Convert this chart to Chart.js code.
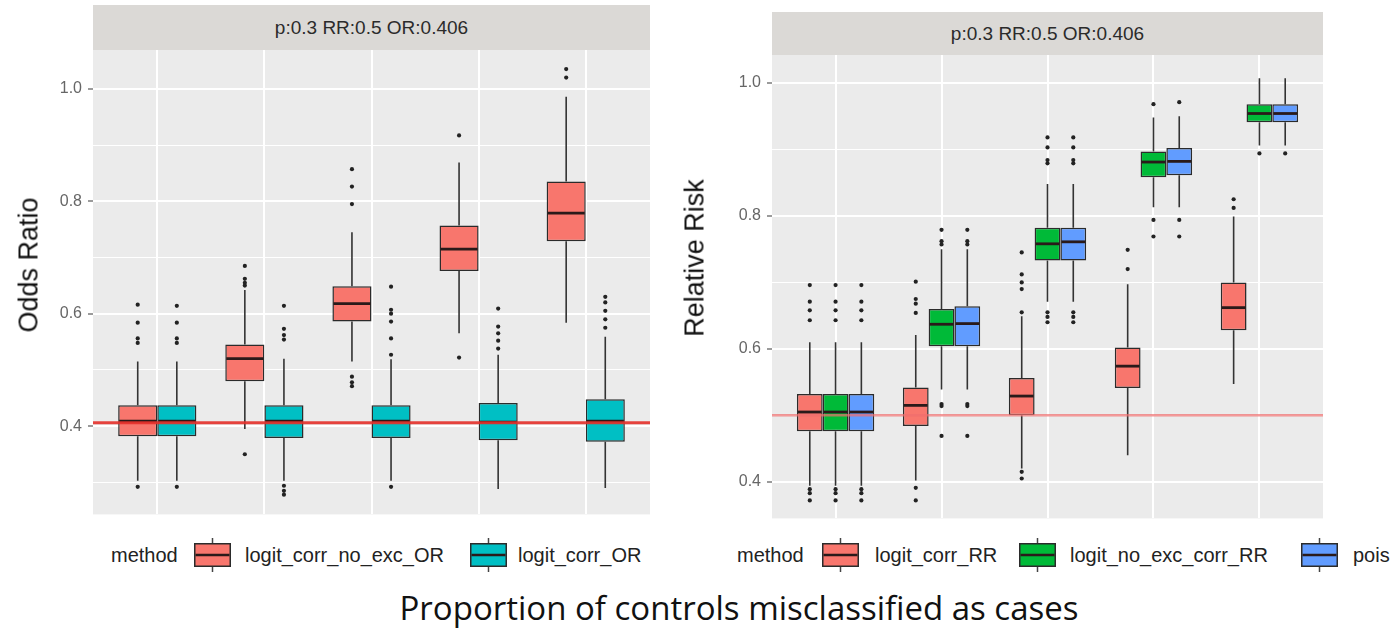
<!DOCTYPE html>
<html>
<head>
<meta charset="utf-8">
<script src="https://cdn.jsdelivr.net/npm/chart.js@4.4.1/dist/chart.umd.min.js"></script>
<style>
  body { margin: 0; width: 1396px; height: 630px; position: relative; overflow: hidden; background: #fff; font-family: 'Liberation Sans', Arial, sans-serif; }
  canvas { position: absolute; top: 0; }
  .strip { position: absolute; background: #dbd9d6; color: #2b2b2b; font-size: 19px; display: flex; align-items: center; justify-content: center; }
  .ytitle { position: absolute; font-size: 27px; color: #111; white-space: nowrap; line-height: 1; transform: translate(-50%, -50%) rotate(-90deg); }
  .legend-text { position: absolute; top: 555px; font-size: 20px; line-height: 1; color: #222; white-space: nowrap; transform: translateY(-52%); }
  .legend-key { position: absolute; top: 538px; }
  .caption { position: absolute; left: 739px; top: 591px; transform: translateX(-50%); font-family: 'Open Sans', sans-serif; font-size: 33px; line-height: 1; color: #111; white-space: nowrap; }
</style>
</head>
<body>
<div class="strip" id="strip-or" style="left:93px;top:5px;width:557px;height:45px;"></div>
<div class="strip" id="strip-rr" style="left:772px;top:12px;width:551px;height:43px;"></div>
<canvas id="chart-or" width="660" height="530" style="left:0;width:660px;height:530px;"></canvas>
<canvas id="chart-rr" width="716" height="534" style="left:680px;width:716px;height:534px;"></canvas>
<div class="ytitle" style="left:29px;top:265px;">Odds Ratio</div>
<div class="ytitle" style="left:695px;top:258px;">Relative Risk</div>
<div id="legend-or"></div>
<div id="legend-rr"></div>
<div class="caption">Proportion of controls misclassified as cases</div>
<script>
// x labels are not printed in the source figure, only the grid lines
const groups = ['1', '2', '3', '4', '5'];
const stripTitle = 'p:0.3 RR:0.5 OR:0.406';
const OR_TRUE = 0.406;
const RR_TRUE = 0.5;

const orMethods = ['logit_corr_no_exc_OR', 'logit_corr_OR'];
const rrMethods = ['logit_corr_RR', 'logit_no_exc_corr_RR', 'pois'];

// each row: [lower whisker, Q1, median, Q3, upper whisker]
const orNoExcStats = [
  [0.303, 0.382, 0.409, 0.437, 0.515],
  [0.395, 0.480, 0.520, 0.545, 0.642],
  [0.515, 0.586, 0.618, 0.649, 0.745],
  [0.565, 0.676, 0.715, 0.757, 0.869],
  [0.584, 0.729, 0.779, 0.835, 0.986],
];
const orNoExcOutliers = [
  [0.616, 0.584, 0.556, 0.548, 0.292],
  [0.685, 0.662, 0.655, 0.650, 0.350],
  [0.857, 0.826, 0.795, 0.488, 0.478, 0.471],
  [0.917, 0.522],
  [1.035, 1.020],
];
const orCorrStats = [
  [0.303, 0.382, 0.409, 0.437, 0.515],
  [0.303, 0.379, 0.409, 0.437, 0.520],
  [0.303, 0.379, 0.409, 0.437, 0.519],
  [0.288, 0.375, 0.407, 0.441, 0.527],
  [0.290, 0.372, 0.409, 0.448, 0.559],
];
const orCorrOutliers = [
  [0.614, 0.584, 0.556, 0.548, 0.292],
  [0.614, 0.573, 0.562, 0.554, 0.294, 0.285, 0.278],
  [0.648, 0.607, 0.600, 0.586, 0.556, 0.527, 0.292],
  [0.609, 0.577, 0.565, 0.552, 0.538],
  [0.630, 0.620, 0.605, 0.590, 0.575],
];

const rrCorrStats = [
  [0.394, 0.476, 0.505, 0.532, 0.610],
  [0.402, 0.484, 0.515, 0.542, 0.621],
  [0.420, 0.500, 0.529, 0.556, 0.649],
  [0.440, 0.541, 0.574, 0.602, 0.697],
  [0.547, 0.628, 0.662, 0.700, 0.799],
];
const rrCorrOutliers = [
  [0.696, 0.671, 0.658, 0.643, 0.389, 0.383, 0.372],
  [0.701, 0.675, 0.668, 0.654, 0.391, 0.372],
  [0.745, 0.712, 0.700, 0.690, 0.655, 0.415, 0.405],
  [0.749, 0.720],
  [0.825, 0.812],
];
const rrNoExcStats = [
  [0.394, 0.476, 0.505, 0.532, 0.610],
  [0.539, 0.604, 0.637, 0.660, 0.750],
  [0.671, 0.733, 0.758, 0.782, 0.848],
  [0.813, 0.858, 0.881, 0.897, 0.948],
  [0.906, 0.941, 0.954, 0.968, 1.007],
];
const rrNoExcOutliers = [
  [0.696, 0.671, 0.658, 0.643, 0.389, 0.383, 0.372],
  [0.779, 0.762, 0.757, 0.517, 0.514, 0.469],
  [0.918, 0.903, 0.884, 0.879, 0.655, 0.648, 0.640],
  [0.968, 0.794, 0.769],
  [0.894],
];
const poisStats = [
  [0.394, 0.476, 0.505, 0.532, 0.610],
  [0.539, 0.604, 0.638, 0.664, 0.750],
  [0.671, 0.733, 0.761, 0.782, 0.848],
  [0.813, 0.861, 0.882, 0.902, 0.950],
  [0.906, 0.941, 0.954, 0.968, 1.007],
];
const poisOutliers = [
  [0.696, 0.671, 0.658, 0.643, 0.389, 0.383, 0.372],
  [0.779, 0.762, 0.757, 0.517, 0.514, 0.469],
  [0.918, 0.903, 0.884, 0.879, 0.655, 0.648, 0.640],
  [0.971, 0.794, 0.769],
  [0.894],
];

const RED = '#F8766D';
const TEAL = '#00BFC4';
const GREEN = '#00BA38';
const BLUE = '#619CFF';

function isMajor(v) {
  return Math.round(v * 10) % 2 === 0;
}

function boxDataset(label, color, stats, outliers) {
  return {
    label,
    data: stats.map((s, i) => ({ x: i, y: [s[1], s[3]] })),
    stats,
    outliers,
    backgroundColor: color,
    borderColor: '#2b2b2b',
    borderWidth: 1.5,
    borderSkipped: false,
    categoryPercentage: 0.73,
    barPercentage: 1,
  };
}

const panelBackground = {
  id: 'panelBackground',
  beforeDraw(chart) {
    const { ctx, chartArea: a } = chart;
    ctx.save();
    ctx.fillStyle = '#EBEBEB';
    ctx.fillRect(a.left, a.top, a.right - a.left, a.bottom - a.top);
    ctx.restore();
  },
};

// whiskers, median and outlier dots on top of the floating bars
const boxWhiskers = {
  id: 'boxWhiskers',
  afterDatasetsDraw(chart) {
    const { ctx, scales: { y } } = chart;
    ctx.save();
    chart.data.datasets.forEach((ds, di) => {
      chart.getDatasetMeta(di).data.forEach((bar, i) => {
        const [lo, q1, med, q3, hi] = ds.stats[i];
        const { x, width } = bar.getProps(['x', 'width'], true);
        ctx.strokeStyle = '#333333';
        ctx.lineWidth = 1.6;
        ctx.beginPath();
        ctx.moveTo(x, y.getPixelForValue(q3));
        ctx.lineTo(x, y.getPixelForValue(hi));
        ctx.moveTo(x, y.getPixelForValue(q1));
        ctx.lineTo(x, y.getPixelForValue(lo));
        ctx.stroke();

        const ym = y.getPixelForValue(med);
        ctx.strokeStyle = '#2a1a1a';
        ctx.lineWidth = 2.8;
        ctx.beginPath();
        ctx.moveTo(x - width / 2 + 1, ym);
        ctx.lineTo(x + width / 2 - 1, ym);
        ctx.stroke();

        ctx.fillStyle = '#222222';
        ds.outliers[i].forEach((v) => {
          ctx.beginPath();
          ctx.arc(x, y.getPixelForValue(v), 2.1, 0, Math.PI * 2);
          ctx.fill();
        });
      });
    });
    ctx.restore();
  },
};

const refLine = {
  id: 'refLine',
  afterDatasetsDraw(chart, args, opts) {
    const { ctx, chartArea: a, scales: { y } } = chart;
    const py = y.getPixelForValue(opts.value);
    ctx.save();
    ctx.strokeStyle = opts.color;
    ctx.lineWidth = opts.width;
    ctx.beginPath();
    ctx.moveTo(a.left, py);
    ctx.lineTo(a.right, py);
    ctx.stroke();
    ctx.restore();
  },
};

function panelScales(yMin, yMax, yWidth) {
  return {
    x: {
      type: 'linear',
      min: -0.6,
      max: 4.6,
      offset: false,
      ticks: { display: false, stepSize: 1 },
      grid: { color: '#FFFFFF', lineWidth: 2, drawTicks: false, offset: false },
      border: { display: false },
      afterBuildTicks: (s) => { s.ticks = s.ticks.filter((t) => Number.isInteger(t.value)); },
      afterFit: (s) => { s.height = 0; },
    },
    y: {
      min: yMin,
      max: yMax,
      ticks: {
        stepSize: 0.1,
        autoSkip: false,
        padding: 6,
        color: '#666666',
        font: { family: "'Liberation Sans', Arial, sans-serif", size: 16 },
        callback: (v) => (isMajor(v) ? v.toFixed(1) : ''),
      },
      grid: {
        color: '#FFFFFF',
        lineWidth: (c) => (c.tick && isMajor(c.tick.value) ? 2 : 1),
        tickLength: 5,
        tickWidth: 1.5,
        tickColor: (c) => (c.tick && isMajor(c.tick.value) ? '#7a7a7a' : 'rgba(0,0,0,0)'),
      },
      border: { display: false },
      afterBuildTicks: (s) => {
        s.ticks = s.ticks.filter((t) => Math.abs(t.value * 10 - Math.round(t.value * 10)) < 1e-6);
      },
      afterFit: (s) => { s.width = yWidth; },
    },
  };
}

function makePanel(canvasId, datasets, opts) {
  return new Chart(document.getElementById(canvasId), {
    type: 'bar',
    data: { labels: groups, datasets },
    options: {
      responsive: false,
      animation: false,
      devicePixelRatio: 1,
      events: [],
      layout: { padding: opts.padding },
      scales: panelScales(opts.yMin, opts.yMax, opts.yWidth),
      plugins: {
        legend: { display: false },
        tooltip: { enabled: false },
        refLine: opts.refLine,
      },
    },
    plugins: [panelBackground, boxWhiskers, refLine],
  });
}

makePanel('chart-or', [
  boxDataset(orMethods[0], RED, orNoExcStats, orNoExcOutliers),
  boxDataset(orMethods[1], TEAL, orCorrStats, orCorrOutliers),
], {
  yMin: 0.243, yMax: 1.069, yWidth: 93,
  padding: { top: 50, right: 10, bottom: 12, left: 0 },
  refLine: { value: OR_TRUE, color: 'rgba(228,48,42,0.9)', width: 3 },
});

makePanel('chart-rr', [
  boxDataset(rrMethods[0], RED, rrCorrStats, rrCorrOutliers),
  boxDataset(rrMethods[1], GREEN, rrNoExcStats, rrNoExcOutliers),
  boxDataset(rrMethods[2], BLUE, poisStats, poisOutliers),
], {
  yMin: 0.345, yMax: 1.042, yWidth: 92,
  padding: { top: 55, right: 73, bottom: 12, left: 0 },
  refLine: { value: RR_TRUE, color: 'rgba(240,110,110,0.7)', width: 2.5 },
});

document.getElementById('strip-or').textContent = stripTitle;
document.getElementById('strip-rr').textContent = stripTitle;

function keySvg(color) {
  return `<svg width="37" height="34" viewBox="0 0 37 34">` +
    `<line x1="18.5" y1="0" x2="18.5" y2="34" stroke="#444" stroke-width="1.5"/>` +
    `<rect x="0.75" y="5.75" width="35.5" height="22.5" fill="${color}" stroke="#2b2b2b" stroke-width="1.5"/>` +
    `<line x1="1.5" y1="17" x2="35.5" y2="17" stroke="#2a1a1a" stroke-width="2.6"/></svg>`;
}

function renderLegend(el, titleX, items) {
  el.innerHTML = `<div class="legend-text" style="left:${titleX}px">method</div>` + items
    .map((it) => `
      <div class="legend-key" style="left:${it.keyX}px">${keySvg(it.color)}</div>
      <div class="legend-text" style="left:${it.textX}px">${it.label}</div>
    `)
    .join('');
}

renderLegend(document.getElementById('legend-or'), 111, [
  { label: orMethods[0], color: RED, keyX: 194, textX: 245 },
  { label: orMethods[1], color: TEAL, keyX: 470, textX: 518 },
]);
renderLegend(document.getElementById('legend-rr'), 737, [
  { label: rrMethods[0], color: RED, keyX: 822, textX: 875 },
  { label: rrMethods[1], color: GREEN, keyX: 1019, textX: 1070 },
  { label: rrMethods[2], color: BLUE, keyX: 1301, textX: 1353 },
]);
</script>
</body>
</html>
